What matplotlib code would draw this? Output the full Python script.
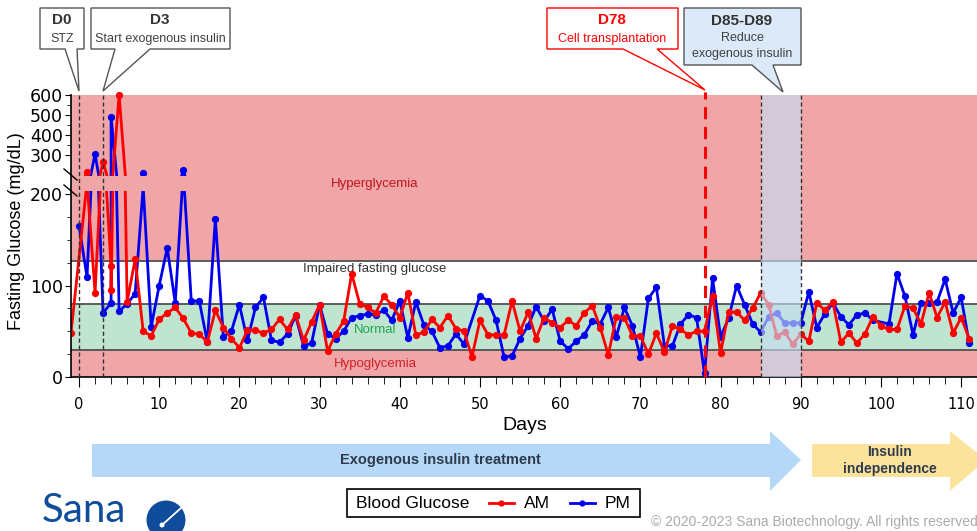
import matplotlib
matplotlib.use('Agg')
import matplotlib.pyplot as plt
from matplotlib.patches import Polygon, Rectangle, Ellipse
from matplotlib.lines import Line2D
from matplotlib.ticker import FixedLocator

plt.rcParams['font.family'] = ['Liberation Sans', 'DejaVu Sans']

W, H = 978, 531

# ---- data ----
am_days = [-1, 1, 2, 3, 4, 4, 5, 6, 7, 8, 9, 10, 11, 12, 13, 14, 15, 16, 17, 18, 19, 20,
           21, 22, 23, 24, 25, 26, 27, 28, 29, 30, 31, 32, 33, 34, 35, 36, 37, 38, 39, 40,
           41, 42, 43, 44, 45, 46, 47, 48, 49, 50, 51, 52, 53, 54, 55, 56, 57, 58, 59, 60,
           61, 62, 63, 64, 65, 66, 67, 68, 69, 70, 71, 72, 73, 74, 75, 76, 77, 78, 79, 80,
           81, 82, 83, 84, 85, 86, 87, 88, 89, 90, 91, 92, 93, 94, 95, 96, 97, 98, 99, 100,
           101, 102, 103, 104, 105, 106, 107, 108, 109, 110, 111]
am_vals = [48, 213, 92, 267, 121, 95, 600, 82, 129, 50, 45, 63, 70, 76, 64, 48, 47, 38, 73, 54, 42, 32,
           51, 51, 48, 52, 63, 52, 68, 40, 60, 79, 28, 47, 61, 113, 80, 76, 70, 88, 79, 65,
           92, 46, 49, 63, 54, 67, 53, 50, 22, 62, 46, 46, 46, 83, 50, 71, 42, 65, 59, 54,
           62, 56, 70, 78, 54, 24, 66, 65, 45, 45, 25, 48, 27, 56, 52, 46, 50, 50, 89, 26,
           71, 71, 62, 75, 92, 79, 45, 49, 36, 47, 39, 81, 73, 82, 38, 48, 37, 47, 66, 56,
           52, 52, 78, 75, 58, 92, 65, 82, 48, 65, 42]

pm_days = [0, 1, 2, 3, 4, 4, 5, 6, 7, 8, 9, 10, 11, 12, 13, 14, 15, 16, 17, 18, 19, 20,
           21, 22, 23, 24, 25, 26, 27, 28, 29, 30, 31, 32, 33, 34, 35, 36, 37, 38, 39, 40,
           41, 42, 43, 44, 45, 46, 47, 48, 50, 51, 52, 53, 54, 55, 56, 57, 58, 59, 60,
           61, 62, 63, 64, 65, 66, 67, 68, 69, 70, 71, 72, 73, 74, 75, 76, 77, 78, 79, 80,
           81, 82, 83, 84, 85, 86, 87, 88, 89, 90, 91, 92, 93, 94, 95, 96, 97, 98, 99,
           101, 102, 103, 104, 105, 106, 107, 108, 109, 110, 111]
pm_vals = [165, 109, 305, 70, 81, 488, 72, 80, 91, 208, 55, 100, 141, 81, 225, 83, 83, 38, 173, 44, 50, 79,
           40, 76, 87, 40, 38, 47, 67, 34, 37, 79, 47, 42, 50, 65, 67, 69, 68, 73, 62, 83,
           43, 82, 57, 50, 32, 34, 47, 36, 89, 83, 62, 22, 23, 42, 56, 77, 61, 74, 39,
           31, 39, 46, 61, 58, 76, 44, 76, 56, 22, 86, 98, 34, 34, 58, 68, 65, 4, 108, 44,
           64, 100, 79, 58, 49, 66, 70, 59, 59, 59, 93, 54, 69, 81, 66, 57, 68, 70, 62,
           58, 113, 88, 46, 81, 81, 82, 107, 70, 87, 37]

zones = [0, 30, 80, 127, 200]          # hypo / normal / impaired / hyper limits
x_ticks = [0, 10, 20, 30, 40, 50, 60, 70, 80, 90, 100, 110]


def P(x, y):
    # pixel -> figure fraction
    return (x / W, 1 - y / H)


PINK = '#f0a6a6'
GREEN = '#bfe5d0'

fig = plt.figure(figsize=(W / 100, H / 100), dpi=100)

L, R = 71, 978
ax_top = fig.add_axes([L / W, (H - 176) / H, (R - L) / W, 84 / H])
ax_bot = fig.add_axes([L / W, (H - 377) / H, (R - L) / W, 186 / H])
ax_top.set_zorder(1)
ax_bot.set_zorder(2)

for ax in (ax_top, ax_bot):
    ax.set_facecolor('none')
    ax.set_xlim(-1, 112.1)
    for s in ['top', 'right', 'left']:
        ax.spines[s].set_visible(False)
    ax.tick_params(axis='y', which='major', length=4.5, pad=1.5, labelsize=12.5,
                   labelfontfamily='DejaVu Sans')
    ax.tick_params(axis='y', which='minor', length=3)

ax_top.set_ylim(195, 615)
ax_bot.set_ylim(0, 203.3)
ax_top.spines['bottom'].set_visible(False)
ax_top.set_xticks([])

# background zones
ax_top.axhspan(195, 600, color=PINK, lw=0, zorder=0)
ax_bot.axhspan(zones[0], zones[1], color=PINK, lw=0, zorder=0)
ax_bot.axhspan(zones[1], zones[2], color=GREEN, lw=0, zorder=0)
ax_bot.axhspan(zones[2], zones[3], color='white', lw=0, zorder=0)
ax_bot.axhspan(zones[3], 203.3, color=PINK, lw=0, zorder=0)
# the gap between the two panels stays pink
gap = ax_bot.axhspan(203.3, 203.3 + 15 / 0.915, color=PINK, lw=0, zorder=0)
gap.set_clip_on(False)
for v in zones[1:4]:
    ax_bot.axhline(v, color='#505050', lw=1.3, zorder=1)

# data
for ax in (ax_top, ax_bot):
    ax.plot(pm_days, pm_vals, color='#0000ee', lw=2, marker='o', ms=4.2, zorder=3)
    ax.plot(am_days, am_vals, color='#ff0000', lw=2, marker='o', ms=4.2, zorder=3)

# ticks
ax_top.yaxis.set_major_locator(FixedLocator([300, 400, 500, 600]))
ax_top.yaxis.set_minor_locator(FixedLocator([350, 450, 550]))
ax_bot.yaxis.set_major_locator(FixedLocator([0, 100, 200]))
ax_bot.yaxis.set_minor_locator(FixedLocator([25, 50, 75, 125, 150, 175]))
ax_bot.set_xticks(x_ticks)
ax_bot.xaxis.set_minor_locator(FixedLocator(list(range(0, 112, 2))))
ax_bot.tick_params(axis='x', which='major', length=7, pad=7.5, labelsize=10.5,
                   labelfontfamily='DejaVu Sans')
ax_bot.tick_params(axis='x', which='minor', length=5)
ax_bot.spines['bottom'].set_linewidth(1.2)
ax_bot.set_xlabel('Days', fontsize=14)
ax_bot.xaxis.set_label_coords(0.5, (377 - 417) / 186)

# left spine drawn across the break, plus break marks
fig.add_artist(Line2D([L / W, L / W], [P(0, 95)[1], P(0, 377)[1]], color='black', lw=1.2,
                      transform=fig.transFigure, zorder=5))
for yb in (174, 190):
    fig.add_artist(Line2D([P(64, 0)[0], P(77, 0)[0]], [P(0, yb - 5)[1], P(0, yb + 6)[1]],
                          color='black', lw=1, transform=fig.transFigure, zorder=5))

fig.text(17 / W, 1 - 231 / H, 'Fasting Glucose (mg/dL)', rotation=90, fontsize=13,
         ha='center', va='center')

# zone labels
fig.text(375 / W, 1 - 184 / H, 'Hyperglycemia', color='#c0141c', fontsize=9.5,
         ha='center', va='center', zorder=6)
ax_bot.text(36.9, 118, 'Impaired fasting glucose', color='#333333', fontsize=9.5, ha='center', va='center', zorder=2)
ax_bot.text(36.9, 51, 'Normal', color='#22a456', fontsize=9.5, ha='center', va='center', zorder=4)
ax_bot.text(36.9, 14.5, 'Hypoglycemia', color='#d0202a', fontsize=9.5, ha='center', va='center', zorder=4)

# event lines and the insulin-reduction window (drawn over both panels)
top_frac = (377 - 95) / 186
for d in (0, 3, 85, 90):
    ax_bot.axvline(d, ymin=0, ymax=top_frac, color='#333333', lw=1, ls=(0, (3, 2)),
                   clip_on=False, zorder=6)
ax_bot.axvline(78, ymin=0, ymax=(377 - 92) / 186, color='red', lw=2.2, ls=(0, (4, 2.5)),
               clip_on=False, zorder=6)
band = ax_bot.axvspan(85, 90, ymin=0, ymax=top_frac, color='#c5dcf2', alpha=0.65, lw=0, zorder=5)
band.set_clip_on(False)


# callouts
def callout(pts, fc, ec):
    fig.add_artist(Polygon([P(*p) for p in pts], closed=True, transform=fig.transFigure,
                           fc=fc, ec=ec, lw=1, zorder=7))


callout([(40, 8), (84, 8), (84, 49), (77, 49), (79, 91), (65, 49), (40, 49)], 'white', '#555555')
callout([(91, 8), (230, 8), (230, 49), (150, 49), (103, 91), (115, 49), (91, 49)], 'white', '#555555')
callout([(547, 8), (678, 8), (678, 49), (657, 49), (705, 90), (623, 49), (547, 49)], 'white', 'red')
callout([(684, 8), (801, 8), (801, 65), (773, 65), (783, 92), (752, 65), (684, 65)], '#dbe9f8', '#555555')


def ctext(x, y, s, **kw):
    fig.text(x / W, 1 - y / H, s, ha='center', va='center', zorder=8, **kw)


ctext(62, 20, 'D0', fontsize=11, fontweight='bold', color='#333333')
ctext(62, 39, 'STZ', fontsize=9, color='#404040')
ctext(160, 20, 'D3', fontsize=11, fontweight='bold', color='#333333')
ctext(160, 39, 'Start exogenous insulin', fontsize=9, color='#404040')
ctext(612, 20, 'D78', fontsize=11, fontweight='bold', color='red')
ctext(612, 39, 'Cell transplantation', fontsize=9, color='red')
ctext(742, 21, 'D85-D89', fontsize=11, fontweight='bold', color='#333333')
ctext(742, 38, 'Reduce', fontsize=9, color='#404040')
ctext(742, 54, 'exogenous insulin', fontsize=9, color='#404040')

# phase arrows
fig.add_artist(Polygon([P(*p) for p in [(92, 444), (770, 444), (770, 431), (801, 460),
                                        (770, 491), (770, 477), (92, 477)]],
                       transform=fig.transFigure, fc='#b5d8f8', ec='none', zorder=2))
fig.add_artist(Polygon([P(*p) for p in [(812, 444), (950, 444), (950, 431), (986, 460),
                                        (950, 491), (950, 477), (812, 477)]],
                       transform=fig.transFigure, fc='#fbe39c', ec='none', zorder=2))
ctext(440, 460, 'Exogenous insulin treatment', fontsize=10.5, fontweight='bold', color='#2f3b4c')
ctext(890, 452, 'Insulin', fontsize=10, fontweight='bold', color='#2f3b4c')
ctext(890, 469, 'independence', fontsize=10, fontweight='bold', color='#2f3b4c')

# legend box
fig.add_artist(Rectangle(P(347, 517), 293 / W, 28 / H, transform=fig.transFigure,
                         fc='white', ec='black', lw=1.2, zorder=3))
fig.text(356 / W, 1 - 503 / H, 'Blood Glucose', fontsize=12.5, va='center', zorder=4)
for x0, col, lab in [(489, '#ff0000', 'AM'), (570, '#0000ee', 'PM')]:
    fig.add_artist(Line2D([x0 / W, (x0 + 25) / W], [1 - 503 / H] * 2, color=col, lw=2,
                          transform=fig.transFigure, zorder=4))
    fig.add_artist(Line2D([(x0 + 12.5) / W], [1 - 503 / H], color=col, marker='o', ms=3.5,
                          transform=fig.transFigure, zorder=4))
    fig.text((x0 + 35) / W, 1 - 503 / H, lab, fontsize=12.5, va='center', zorder=4)

# logo and footer
fig.text(42 / W, 1 - 522 / H, 'Sana', fontsize=29, color='#0f4c9c', family='Lato',
         va='baseline', ha='left')
fig.add_artist(Ellipse(P(166, 520), 39 / W, 39 / H, transform=fig.transFigure,
                       fc='#0f4c9c', ec='none'))
fig.add_artist(Line2D([162 / W, 181 / W], [1 - 525 / H, 1 - 508 / H], color='white', lw=1.3,
                      transform=fig.transFigure))
fig.add_artist(Ellipse(P(162, 525), 5 / W, 5 / H, transform=fig.transFigure,
                       fc='white', ec='none'))
fig.text(651 / W, 1 - 522 / H, '\u00a9 2020-2023 Sana Biotechnology. All rights reserved',
         fontsize=10, color='#aaaaaa', va='center')

fig.savefig('out.png', dpi=100)
